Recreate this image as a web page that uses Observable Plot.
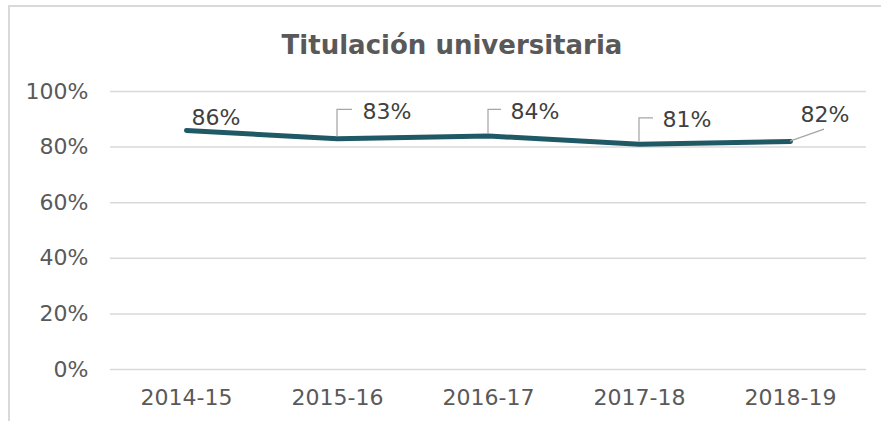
<!DOCTYPE html>
<html><head><meta charset="utf-8">
<script src="https://cdn.jsdelivr.net/npm/d3@7"></script>
<script src="https://cdn.jsdelivr.net/npm/@observablehq/plot@0.6"></script>
<style>
body{margin:0;background:#fff;width:881px;height:421px;overflow:hidden;position:relative;font-family:"DejaVu Sans",Verdana,sans-serif;}
#box{position:absolute;left:8px;top:5px;width:900px;height:440px;border:2px solid #d9d9d9;box-sizing:border-box;}
#title{position:absolute;left:0;top:30px;width:904px;text-align:center;font-weight:bold;font-size:26px;color:#595959;}
#chart{position:absolute;left:0;top:70px;}
</style></head>
<body>
<div id="box"></div>
<div id="title">Titulación universitaria</div>
<div id="chart"></div>
<script>
const categories = ["2014-15","2015-16","2016-17","2017-18","2018-19"];
const values = [0.86, 0.83, 0.84, 0.81, 0.82];
const labels = ["86%","83%","84%","81%","82%"];
const yTicks = [0, 0.2, 0.4, 0.6, 0.8, 1.0];

// label layout (pixel offsets from point): text left offset, text center offset, leader type
const labelLayout = [
  {dx: 5,  dy: -12, leader: null},
  {dx: 25, dy: -27, leader: "elbow", hx: 15},
  {dx: 22, dy: -24, leader: "elbow", hx: 13},
  {dx: 23, dy: -24, leader: "elbow", hx: 14},
  {dx: 10, dy: -27, leader: "diag", ex: 34, ey: -12}
];

const data = categories.map((c, i) => ({cat: c, v: values[i], label: labels[i], ...labelLayout[i]}));

function leaders(index, scales, values_, dims) {
  const g = d3.create("svg:g").attr("fill", "none").attr("stroke", "#a6a6a6").attr("stroke-width", 1.25);
  for (const d of data) {
    if (!d.leader) continue;
    const x = scales.x(d.cat), y = scales.y(d.v);
    let p;
    if (d.leader === "elbow") {
      const yt = y + d.dy - 2;
      p = `M${x},${y - 2}L${x},${yt}L${x + d.hx},${yt}`;
    } else {
      p = `M${x},${y}L${x + d.ex},${y + d.ey}`;
    }
    g.append("path").attr("d", p);
  }
  return g.node();
}

const chart = Plot.plot({
  width: 881,
  height: 351,
  marginLeft: 110,
  marginRight: 15,
  marginTop: 21,
  marginBottom: 52,
  style: {fontFamily: "'DejaVu Sans', Verdana, sans-serif", background: "transparent", color: "#595959"},
  x: {type: "point", domain: categories, padding: 0.5, label: null},
  y: {domain: [0, 1], ticks: yTicks, tickFormat: d => Math.round(d * 100) + "%", label: null},
  marks: [
    Plot.gridY(yTicks, {stroke: "#d9d9d9", strokeOpacity: 1, strokeWidth: 1.5}),
    Plot.axisY(yTicks, {tickSize: 0, tickPadding: 22, fontSize: 22, fill: "#595959", tickFormat: d => Math.round(d * 100) + "%"}),
    Plot.axisX({tickSize: 0, tickPadding: 20, fontSize: 22, fill: "#595959"}),
    Plot.line(data, {x: "cat", y: "v", stroke: "#205966", strokeWidth: 5, strokeLinecap: "round", strokeLinejoin: "round"}),
    leaders,
    Plot.text(data, {x: "cat", y: "v", text: "label", textAnchor: "start", fontSize: 22, fill: "#404040",
      render: (index, scales, vals, dims, ctx, next) => {
        const g = next(index, scales, vals, dims, ctx);
        d3.select(g).selectAll("text").each(function(_, k) {
          const d = data[index[k]];
          d3.select(this).attr("x", null).attr("y", "0.32em")
            .attr("transform", `translate(${scales.x(d.cat) + d.dx},${scales.y(d.v) + d.dy})`);
        });
        return g;
      }})
  ]
});
document.getElementById("chart").appendChild(chart);
</script>
</body></html>
